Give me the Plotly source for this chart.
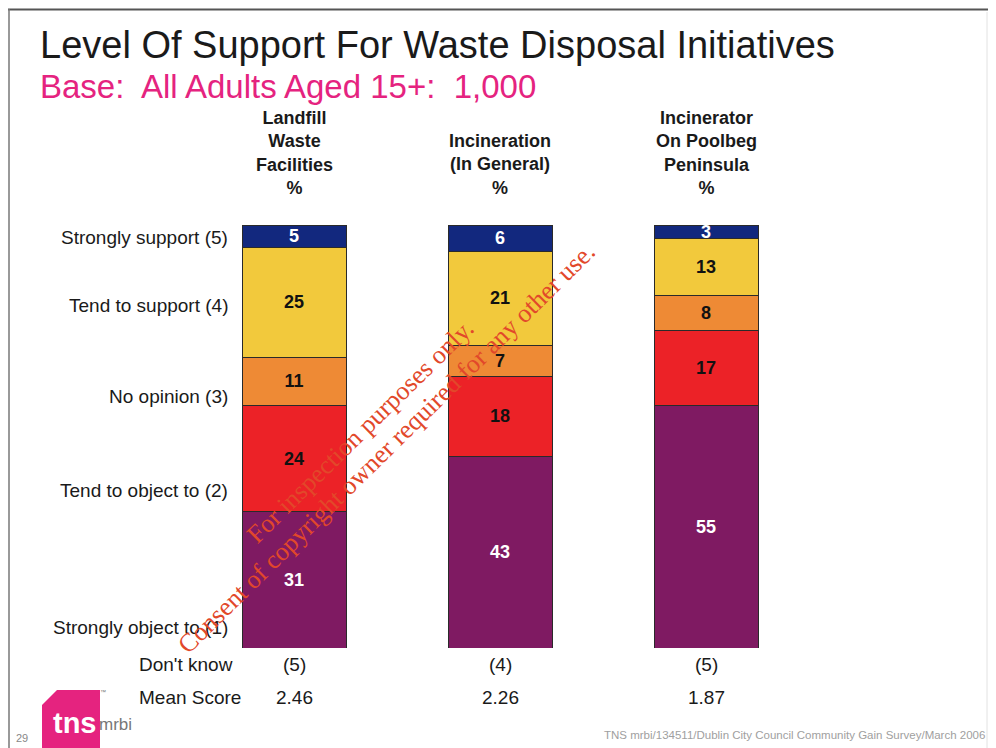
import plotly.graph_objects as go

# ---- data ----
columns = ["Landfill<br>Waste<br>Facilities<br>%", "Incineration<br>(In General)<br>%", "Incinerator<br>On Poolbeg<br>Peninsula<br>%"]
levels = ["Strongly support (5)", "Tend to support (4)", "No opinion (3)", "Tend to object to (2)", "Strongly object to (1)"]
strongly_support = [5, 6, 3]
tend_support = [25, 21, 13]
no_opinion = [11, 7, 8]
tend_object = [24, 18, 17]
strongly_object = [31, 43, 55]
dont_know = ["(5)", "(4)", "(5)"]
mean_score = ["2.46", "2.26", "1.87"]
series = [strongly_support, tend_support, no_opinion, tend_object, strongly_object]
colors = ["#12287e", "#f2c93c", "#ee8a35", "#ec2227", "#7f1a62"]
text_colors = ["white", "#111111", "#111111", "#111111", "white"]
level_label_y = [237, 305, 397, 490, 627]  # label pixel rows (page)

# page is rendered with an 8px body margin -> map page pixels into figure
OFF = 8
W, H = 988, 740
def px(x): return (x - OFF) / W
def py(y): return 1 - (y - OFF) / H

FONT = "Liberation Sans, Arial, sans-serif"
SERIF = "Liberation Serif, Times New Roman, serif"
x_idx = list(range(len(columns)))

fig = go.Figure()
for vals, c, tc, name in zip(series, colors, text_colors, levels):
    fig.add_trace(go.Bar(
        x=x_idx, y=vals, name=name, width=104 / 206,
        marker=dict(color=c, line=dict(color="#2a2a2a", width=1)),
        text=[str(v) for v in vals], textposition="inside", insidetextanchor="middle",
        textangle=0, textfont=dict(family=FONT, size=18, color=tc, weight="bold"),
        hoverinfo="skip",
    ))

fig.update_layout(
    width=W, height=H, barmode="stack", barnorm="percent",
    margin=dict(l=0, r=0, t=0, b=0), paper_bgcolor="white", plot_bgcolor="white",
    showlegend=False, uniformtext=dict(minsize=18, mode="show"),
    xaxis=dict(domain=[px(191), px(809)], range=[-0.5, 2.5], visible=False),
    yaxis=dict(domain=[py(648), py(225)], range=[100, 0], visible=False),
    font=dict(family=FONT),
)

TXT = "#1a1a1a"
ann = []
ann.append(dict(text="Level Of Support For Waste Disposal Initiatives", x=px(38), y=py(45), xref="paper", yref="paper",
                xanchor="left", yanchor="middle", showarrow=False, font=dict(size=38, color=TXT, family=FONT)))
ann.append(dict(text="Base:  All Adults Aged 15+:  1,000", x=px(38), y=py(86), xref="paper", yref="paper",
                xanchor="left", yanchor="middle", showarrow=False, font=dict(size=33, color="#e5237f", family=FONT)))
for i, col in enumerate(columns):
    ann.append(dict(text="<b>" + col + "</b>", x=i, y=py(200), xref="x", yref="paper", xanchor="center",
                    yanchor="bottom", showarrow=False, align="center",
                    font=dict(size=18, color=TXT, family=FONT)))
for lab, yy in zip(levels, level_label_y):
    ann.append(dict(text=lab, x=px(230), y=py(yy), xref="paper", yref="paper", xanchor="right", yanchor="middle",
                    showarrow=False, font=dict(size=19, color=TXT, family=FONT)))
ann.append(dict(text="Don't know", x=px(137), y=py(664), xref="paper", yref="paper", xanchor="left", yanchor="middle",
                showarrow=False, font=dict(size=19, color=TXT, family=FONT)))
ann.append(dict(text="Mean Score", x=px(137), y=py(697), xref="paper", yref="paper", xanchor="left", yanchor="middle",
                showarrow=False, font=dict(size=19, color=TXT, family=FONT)))
for i in x_idx:
    ann.append(dict(text=dont_know[i], x=i, y=py(664), xref="x", yref="paper", xanchor="center", yanchor="middle",
                    showarrow=False, font=dict(size=19, color=TXT, family=FONT)))
    ann.append(dict(text=mean_score[i], x=i, y=py(697), xref="x", yref="paper", xanchor="center", yanchor="middle",
                    showarrow=False, font=dict(size=19, color=TXT, family=FONT)))
ann.append(dict(text="TNS mrbi/134511/Dublin City Council Community Gain Survey/March 2006", x=px(987), y=py(735),
                xref="paper", yref="paper", xanchor="right", yanchor="middle", showarrow=False,
                font=dict(size=11.5, color="#a0a0a0", family=FONT)))
ann.append(dict(text="29", x=px(14), y=py(738), xref="paper", yref="paper", xanchor="left", yanchor="middle",
                showarrow=False, font=dict(size=11, color="#888888", family=FONT)))
ann.append(dict(text="<b>tns</b>", x=px(51), y=py(723), xref="paper", yref="paper", xanchor="left", yanchor="middle",
                showarrow=False, font=dict(size=29, color="white", family=FONT)))
ann.append(dict(text="mrbi", x=px(97), y=py(724), xref="paper", yref="paper", xanchor="left", yanchor="middle",
                showarrow=False, font=dict(size=17, color="#777777", family=FONT)))
ann.append(dict(text="™", x=px(98), y=py(692), xref="paper", yref="paper", xanchor="left", yanchor="middle",
                showarrow=False, font=dict(size=6, color="#777777", family=FONT)))
# watermark
ann.append(dict(text="For inspection purposes only.", x=px(360), y=py(431), xref="paper", yref="paper",
                xanchor="center", yanchor="middle", showarrow=False, textangle=-44.5,
                font=dict(size=26, color="#e2482a", family=SERIF)))
ann.append(dict(text="Consent of copyright owner required for any other use.", x=px(386), y=py(448), xref="paper",
                yref="paper", xanchor="center", yanchor="middle", showarrow=False, textangle=-44.5,
                font=dict(size=26, color="#e2482a", family=SERIF)))
fig.update_layout(annotations=ann)

shapes = [
    dict(type="line", xref="paper", yref="paper", x0=px(8), x1=1, y0=py(9.5), y1=py(9.5), line=dict(color="#555555", width=2)),
    dict(type="line", xref="paper", yref="paper", x0=px(9), x1=px(9), y0=py(9), y1=0, line=dict(color="#777777", width=1.5)),
    dict(type="line", xref="paper", yref="paper", x0=px(987), x1=px(987), y0=py(12), y1=0, line=dict(color="#e2e2e2", width=1)),
    dict(type="path", xref="paper", yref="paper",
         path=f"M {px(42)},{py(748)} L {px(42)},{py(705)} L {px(57)},{py(690)} L {px(100)},{py(690)} L {px(100)},{py(748)} Z",
         fillcolor="#e5237f", line=dict(width=0), layer="below"),
]
fig.update_layout(shapes=shapes)

fig.write_html("out.html")
